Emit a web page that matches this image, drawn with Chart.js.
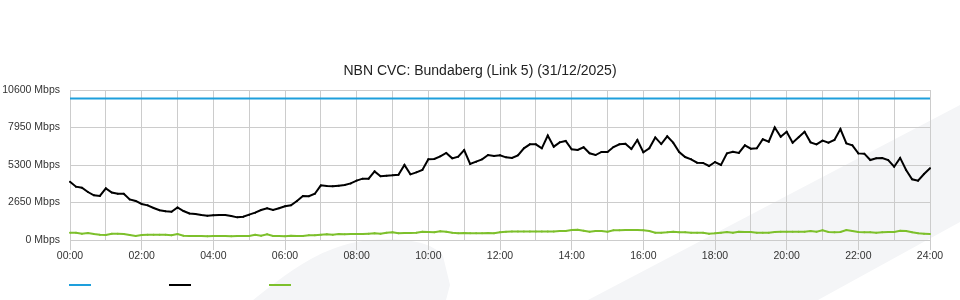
<!DOCTYPE html>
<html>
<head>
<meta charset="utf-8">
<script src="https://cdn.jsdelivr.net/npm/chart.js@4"></script>
<style>
  html, body { margin: 0; padding: 0; background: #ffffff; }
  #wrap { position: relative; width: 960px; height: 300px; overflow: hidden; }
  #bg { position: absolute; left: 0; top: 0; }
  #chart { position: absolute; left: 0; top: 0; }
  #legend { position: absolute; left: 69px; top: 284px; display: flex; gap: 78px; }
  #legend span { display: block; width: 22px; height: 2px; }
</style>
</head>
<body>
<div id="wrap">
  <svg id="bg" width="960" height="300" xmlns="http://www.w3.org/2000/svg">
    <path d="M253 300 C 285 275, 320 245, 370 240 C 400 238, 430 240, 443 256 L 450 285 L 446 300 Z" fill="#f4f5f7"/>
    <path d="M588 300 L 960 105 L 960 222 L 818 300 Z" fill="#f4f5f7"/>
  </svg>
  <canvas id="chart" width="960" height="300"></canvas>
  <div id="legend"></div>
</div>
<script>
// ---- data ----
const chartTitle = 'NBN CVC: Bundaberg (Link 5) (31/12/2025)';
const yTicks = [0, 2650, 5300, 7950, 10600];

// 10-minute time categories 00:00 .. 24:00
const times = [];
for (let m = 0; m <= 1440; m += 10) {
  times.push(String(Math.floor(m / 60)).padStart(2, '0') + ':' + String(m % 60).padStart(2, '0'));
}

// capacity line (blue)
const capacityTimes = ['00:00', '24:00'];
const capacity = [10000, 10000];

// traffic (black), Mbps
const traffic = [
  4120, 3770, 3700, 3390, 3160, 3110, 3650, 3360, 3270, 3270, 2870, 2760,
  2545, 2450, 2260, 2100, 2025, 2000, 2300, 2050, 1880, 1840, 1770, 1720,
  1745, 1770, 1770, 1700, 1600, 1650, 1790, 1930, 2120, 2240, 2120, 2240,
  2380, 2450, 2760, 3110, 3090, 3270, 3860, 3820, 3790, 3840, 3890, 4000,
  4200, 4335, 4335, 4850, 4500, 4545, 4570, 4615, 5300, 4640, 4780, 4950,
  5700, 5725, 5910, 6150, 5770, 5890, 6360, 5370, 5535, 5700, 6005, 5935,
  5985, 5840, 5795, 5985, 6480, 6760, 6760, 6480, 7380, 6595, 6900, 7000,
  6410, 6360, 6550, 6125, 6005, 6220, 6220, 6570, 6760, 6805, 6430, 7065,
  6200, 6480, 7250, 6780, 7330, 6880, 6220, 5865, 5700, 5465, 5450, 5230,
  5510, 5300, 6120, 6240, 6150, 6690, 6455, 6480, 7115, 6950, 7950, 7300,
  7650, 6880, 7255, 7650, 6900, 6760, 7020, 6880, 7070, 7840, 6830, 6690,
  6120, 6100, 5650, 5770, 5795, 5650, 5180, 5800, 4950, 4290, 4190, 4665,
  5065
];

// second series (green), Mbps
const lowSeries = [
  518, 518, 447, 495, 424, 377, 353, 447, 447, 424, 353, 283,
  353, 377, 377, 377, 377, 330, 424, 306, 283, 283, 283, 260,
  283, 283, 283, 260, 283, 283, 283, 377, 306, 400, 283, 283,
  260, 306, 283, 283, 330, 330, 377, 400, 377, 424, 400, 424,
  424, 424, 447, 471, 447, 518, 541, 471, 494, 494, 518, 589,
  565, 541, 613, 589, 518, 471, 494, 471, 471, 471, 494, 471,
  555, 580, 606, 606, 606, 606, 606, 606, 606, 606, 631, 631,
  707, 732, 656, 580, 631, 631, 580, 681, 681, 707, 707, 707,
  681, 636, 518, 518, 542, 589, 542, 542, 518, 518, 518, 448,
  471, 518, 565, 518, 589, 565, 565, 518, 518, 518, 565, 589,
  589, 589, 589, 589, 636, 589, 683, 565, 542, 565, 707, 636,
  565, 542, 542, 518, 542, 565, 565, 660, 636, 542, 471, 448,
  424
];

// ---- colours ----
const blue = '#1e9fdc';
const black = '#000000';
const green = '#7dc02c';
const gridColor = '#cccccc';
const textColor = '#333333';
const fontFamily = '"Liberation Sans", Arial, sans-serif';

const chart = new Chart(document.getElementById('chart'), {
  type: 'line',
  data: {
    labels: times,
    datasets: [
      {
        label: 'Capacity',
        data: capacityTimes.map((t, i) => ({ x: t, y: capacity[i] })),
        borderColor: blue,
        backgroundColor: blue,
        borderWidth: 2,
        pointRadius: 0,
        fill: false
      },
      {
        label: 'Traffic',
        data: traffic,
        borderColor: black,
        backgroundColor: black,
        borderWidth: 2,
        pointRadius: 1,
        pointBorderWidth: 0,
        fill: false
      },
      {
        label: 'Low',
        data: lowSeries,
        borderColor: green,
        backgroundColor: green,
        borderWidth: 2,
        pointRadius: 1,
        pointBorderWidth: 0,
        fill: false
      }
    ]
  },
  options: {
    responsive: false,
    animation: false,
    devicePixelRatio: 1,
    events: [],
    layout: { padding: { left: 0, right: 0, top: 0, bottom: 37.4 } },
    plugins: {
      legend: { display: false },
      tooltip: { enabled: false },
      title: {
        display: true,
        text: chartTitle,
        color: '#222222',
        font: { family: fontFamily, size: 14, weight: 'normal' },
        padding: { top: 62.5, bottom: 10.7 }
      }
    },
    scales: {
      x: {
        type: 'category',
        offset: false,
        grid: {
          color: (ctx) => (ctx.index % 6 === 0 ? gridColor : 'rgba(0,0,0,0)'),
          tickColor: (ctx) => (ctx.index % 12 === 0 ? gridColor : 'rgba(0,0,0,0)'),
          tickLength: 10,
          drawTicks: true
        },
        border: { display: true, color: gridColor },
        ticks: {
          autoSkip: false,
          maxRotation: 0,
          minRotation: 0,
          padding: 0,
          color: textColor,
          font: { family: fontFamily, size: 10.5 },
          callback: (val, i) => (i % 12 === 0 ? times[i] : '')
        }
      },
      y: {
        position: 'left',
        min: yTicks[0],
        max: yTicks[yTicks.length - 1],
        afterBuildTicks: (scale) => { scale.ticks = yTicks.map(v => ({ value: v })); },
        afterFit: (scale) => { scale.width = 70; },
        grid: { color: gridColor, drawTicks: false },
        border: { display: true, color: gridColor },
        ticks: {
          padding: 10,
          color: textColor,
          font: { family: fontFamily, size: 10.5 },
          callback: (v) => v + ' Mbps'
        }
      },
      yRight: {
        position: 'right',
        display: true,
        afterFit: (scale) => { scale.width = 30; },
        grid: { display: false, drawTicks: false },
        border: { display: false },
        ticks: { display: false }
      }
    }
  }
});

// HTML legend built from the datasets (line swatches only, no text)
const legendEl = document.getElementById('legend');
chart.data.datasets.forEach(ds => {
  const sw = document.createElement('span');
  sw.style.background = ds.borderColor;
  legendEl.appendChild(sw);
});
</script>
</body>
</html>
